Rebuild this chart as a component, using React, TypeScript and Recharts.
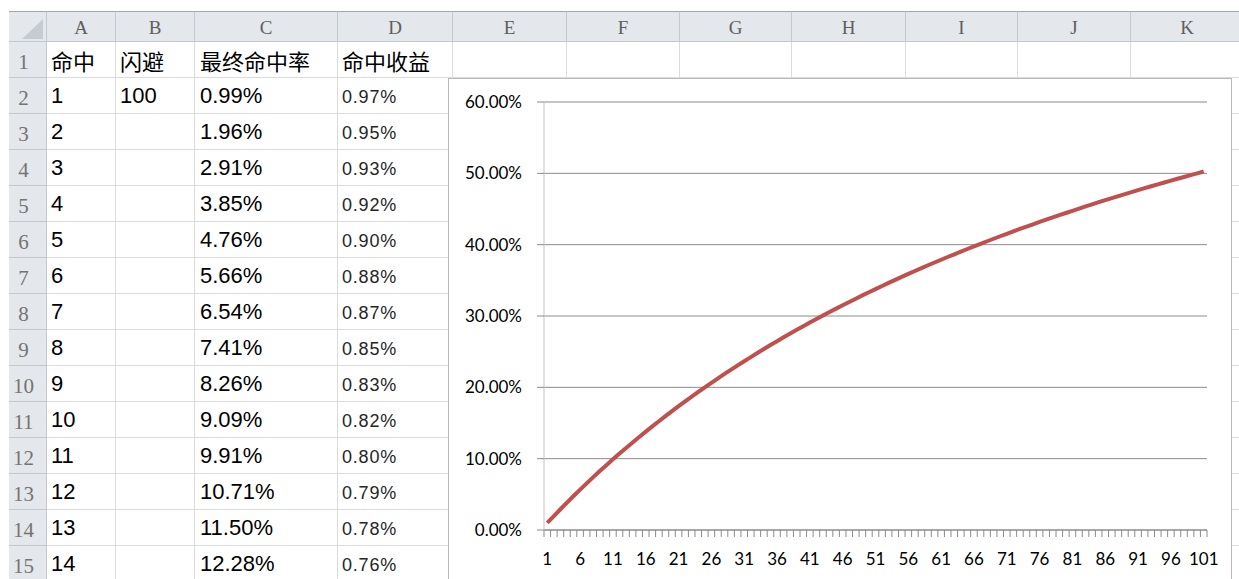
import { LineChart, Line, XAxis, YAxis, CartesianGrid } from "recharts";

// spreadsheet cells (rows 1-15 visible)
const HEADERS = ["命中", "闪避", "最终命中率", "命中收益"];
const HIT_COL = ["1", "2", "3", "4", "5", "6", "7", "8", "9", "10", "11", "12", "13", "14"];
const EVADE_COL = ["100"];
const FINAL_RATE_COL = [
  "0.99%", "1.96%", "2.91%", "3.85%", "4.76%", "5.66%", "6.54%",
  "7.41%", "8.26%", "9.09%", "9.91%", "10.71%", "11.50%", "12.28%",
];
const GAIN_COL = [
  "0.97%", "0.95%", "0.93%", "0.92%", "0.90%", "0.88%", "0.87%",
  "0.85%", "0.83%", "0.82%", "0.80%", "0.79%", "0.78%", "0.76%",
];
const COL_LETTERS = ["A", "B", "C", "D", "E", "F", "G", "H", "I", "J", "K"];

// chart series: hit value (category) and final hit rate in %
const HIT_VALUES = [
  1, 2, 3, 4, 5, 6, 7, 8, 9, 10, 11, 12, 13, 14, 15, 16, 17, 18, 19, 20,
  21, 22, 23, 24, 25, 26, 27, 28, 29, 30, 31, 32, 33, 34, 35, 36, 37, 38, 39, 40,
  41, 42, 43, 44, 45, 46, 47, 48, 49, 50, 51, 52, 53, 54, 55, 56, 57, 58, 59, 60,
  61, 62, 63, 64, 65, 66, 67, 68, 69, 70, 71, 72, 73, 74, 75, 76, 77, 78, 79, 80,
  81, 82, 83, 84, 85, 86, 87, 88, 89, 90, 91, 92, 93, 94, 95, 96, 97, 98, 99, 100,
  101,
];
const FINAL_RATE = [
  0.99, 1.96, 2.91, 3.85, 4.76, 5.66, 6.54, 7.41, 8.26, 9.09,
  9.91, 10.71, 11.5, 12.28, 13.04, 13.79, 14.53, 15.25, 15.97, 16.67,
  17.36, 18.03, 18.7, 19.35, 20.0, 20.63, 21.26, 21.88, 22.48, 23.08,
  23.66, 24.24, 24.81, 25.37, 25.93, 26.47, 27.01, 27.54, 28.06, 28.57,
  29.08, 29.58, 30.07, 30.56, 31.03, 31.51, 31.97, 32.43, 32.89, 33.33,
  33.77, 34.21, 34.64, 35.06, 35.48, 35.9, 36.31, 36.71, 37.11, 37.5,
  37.89, 38.27, 38.65, 39.02, 39.39, 39.76, 40.12, 40.48, 40.83, 41.18,
  41.52, 41.86, 42.2, 42.53, 42.86, 43.18, 43.5, 43.82, 44.13, 44.44,
  44.75, 45.05, 45.36, 45.65, 45.95, 46.24, 46.52, 46.81, 47.09, 47.37,
  47.64, 47.92, 48.19, 48.45, 48.72, 48.98, 49.24, 49.49, 49.75, 50.0,
  50.25,
];
const Y_TICKS = [0, 10, 20, 30, 40, 50, 60];

const data = HIT_VALUES.map((h, i) => ({ hit: h, rate: FINAL_RATE[i] }));

// sheet geometry
const COL_X = [47, 116, 195, 338, 453, 567, 680, 792, 906, 1018, 1131, 1244];
const ROW_HDR_L = 9;
const HEAD_TOP = 11;
const HEAD_H = 31;
const ROW_H = 36;
const ROW_COUNT = 15;
const rowTop = (r: number) => HEAD_TOP + HEAD_H + (r - 1) * ROW_H;

const HDR_BG = "#e4e7eb";
const HDR_LINE = "#c3c8ce";
const CELL_LINE = "#dcdcdc";

// chart geometry
const CH_LEFT = 448;
const CH_TOP = 78;
const CH_W = 784;
const CH_H = 510;
const MARGIN = { top: 24, right: 25, bottom: 0, left: 0 };
const Y_W = 96;
const X_H = 58;
const PLOT_W = CH_W - MARGIN.left - MARGIN.right - Y_W;
const HALF_BAND = PLOT_W / HIT_VALUES.length / 2;
const LABEL_FONT = "Lato, 'Open Sans', sans-serif";

const cellText = (col: number, row: number): string | null => {
  if (row === 1) return HEADERS[col] ?? null;
  const i = row - 2;
  if (col === 0) return HIT_COL[i] ?? null;
  if (col === 1) return EVADE_COL[i] ?? null;
  if (col === 2) return FINAL_RATE_COL[i] ?? null;
  if (col === 3) return GAIN_COL[i] ?? null;
  return null;
};

function XTick(props: any) {
  const { x, y, payload } = props;
  const idx = props.index ?? payload.index;
  const last = HIT_VALUES.length - 1;
  return (
    <g>
      <line x1={x - HALF_BAND} x2={x - HALF_BAND} y1={y} y2={y + 7} stroke="#8c8c8c" />
      {idx === last && <line x1={x + HALF_BAND} x2={x + HALF_BAND} y1={y} y2={y + 7} stroke="#8c8c8c" />}
      {idx % 5 === 0 && (
        <text
          x={x}
          y={y + 28}
          textAnchor="middle"
          dominantBaseline="central"
          fill="#000"
          fontSize={17}
          fontFamily={LABEL_FONT}
        >
          {payload.value}
        </text>
      )}
    </g>
  );
}

export default function App() {
  const cells: any[] = [];
  for (let r = 1; r <= ROW_COUNT; r++) {
    for (let c = 0; c < COL_LETTERS.length; c++) {
      const txt = cellText(c, r);
      const isGain = c === 3 && r > 1;
      const isHead = r === 1;
      cells.push(
        <div
          key={`${r}-${c}`}
          style={{
            position: "absolute",
            left: COL_X[c],
            top: rowTop(r),
            width: COL_X[c + 1] - COL_X[c],
            height: ROW_H,
            boxSizing: "border-box",
            borderRight: `1px solid ${CELL_LINE}`,
            borderBottom: `1px solid ${CELL_LINE}`,
            display: "flex",
            alignItems: "center",
            paddingLeft: c === 2 ? 5 : 4,
            paddingTop: isGain ? 3 : 1,
            whiteSpace: "nowrap",
            color: isGain ? "#262626" : "#000",
            fontFamily: isHead
              ? "'Noto Sans CJK SC', sans-serif"
              : "'Liberation Sans', Arial, sans-serif",
            fontSize: isHead ? 22 : isGain ? 18 : 22,
            letterSpacing: isGain ? 0.8 : 0,
          }}
        >
          {txt}
        </div>
      );
    }
  }

  return (
    <div
      style={{
        position: "fixed",
        left: 0,
        top: 0,
        width: 1239,
        height: 579,
        overflow: "hidden",
        background: "#fff",
      }}
    >
      {/* corner cell */}
      <div
        style={{
          position: "absolute",
          left: ROW_HDR_L,
          top: HEAD_TOP,
          width: COL_X[0] - ROW_HDR_L,
          height: HEAD_H,
          background: HDR_BG,
          boxSizing: "border-box",
          borderTop: "1px solid #a3a8ae",
          borderRight: `1px solid ${HDR_LINE}`,
          borderBottom: `1px solid ${HDR_LINE}`,
        }}
      >
        <svg width={38} height={30} style={{ position: "absolute", left: 0, top: 0 }}>
          <polygon points="13,27 34,27 34,7" fill="#c6cbd1" />
        </svg>
      </div>

      {/* column headers */}
      {COL_LETTERS.map((l, i) => (
        <div
          key={l}
          style={{
            position: "absolute",
            left: COL_X[i],
            top: HEAD_TOP,
            width: COL_X[i + 1] - COL_X[i],
            height: HEAD_H,
            background: HDR_BG,
            boxSizing: "border-box",
            borderTop: "1px solid #a3a8ae",
            borderRight: `1px solid ${HDR_LINE}`,
            borderBottom: `1px solid ${HDR_LINE}`,
            display: "flex",
            alignItems: "center",
            justifyContent: "center",
            paddingTop: 3,
            color: "#5f5f5f",
            fontFamily: "'Liberation Serif', serif",
            fontSize: 19,
          }}
        >
          {l}
        </div>
      ))}

      {/* row headers */}
      {Array.from({ length: ROW_COUNT }, (_, k) => k + 1).map((r) => (
        <div
          key={r}
          style={{
            position: "absolute",
            left: ROW_HDR_L,
            top: rowTop(r),
            width: COL_X[0] - ROW_HDR_L,
            height: ROW_H,
            background: HDR_BG,
            boxSizing: "border-box",
            borderRight: `1px solid ${HDR_LINE}`,
            borderBottom: `1px solid ${HDR_LINE}`,
            display: "flex",
            alignItems: "flex-end",
            justifyContent: "center",
            paddingRight: 8,
            paddingBottom: 2,
            color: "#747474",
            fontFamily: "'Liberation Serif', serif",
            fontSize: 21,
          }}
        >
          {r}
        </div>
      ))}

      {cells}

      {/* embedded chart */}
      <div
        style={{
          position: "absolute",
          left: CH_LEFT,
          top: CH_TOP,
          width: CH_W,
          height: CH_H,
          background: "#fff",
        }}
      >
        <LineChart width={CH_W} height={CH_H} data={data} margin={MARGIN}>
          <CartesianGrid horizontal vertical={false} stroke="#8c8c8c" />
          <XAxis
            dataKey="hit"
            height={X_H}
            interval={0}
            tickSize={0}
            tickMargin={0}
            tickLine={false}
            padding={{ left: HALF_BAND, right: HALF_BAND }}
            axisLine={{ stroke: "#8c8c8c" }}
            tick={<XTick />}
          />
          <YAxis
            domain={[0, 60]}
            ticks={Y_TICKS}
            width={Y_W}
            tickSize={7}
            tickMargin={15}
            tickFormatter={(v: number) => `${v.toFixed(2)}%`}
            axisLine={{ stroke: "#c4c4c4" }}
            tickLine={{ stroke: "#8c8c8c" }}
            tick={{ fill: "#000", fontSize: 17, fontFamily: LABEL_FONT }}
          />
          <Line
            type="linear"
            dataKey="rate"
            stroke="#c0504d"
            strokeWidth={4}
            dot={false}
            isAnimationActive={false}
          />
        </LineChart>
        <div
          style={{
            position: "absolute",
            inset: 0,
            border: "1px solid #b9b9b9",
            pointerEvents: "none",
          }}
        />
      </div>
    </div>
  );
}
